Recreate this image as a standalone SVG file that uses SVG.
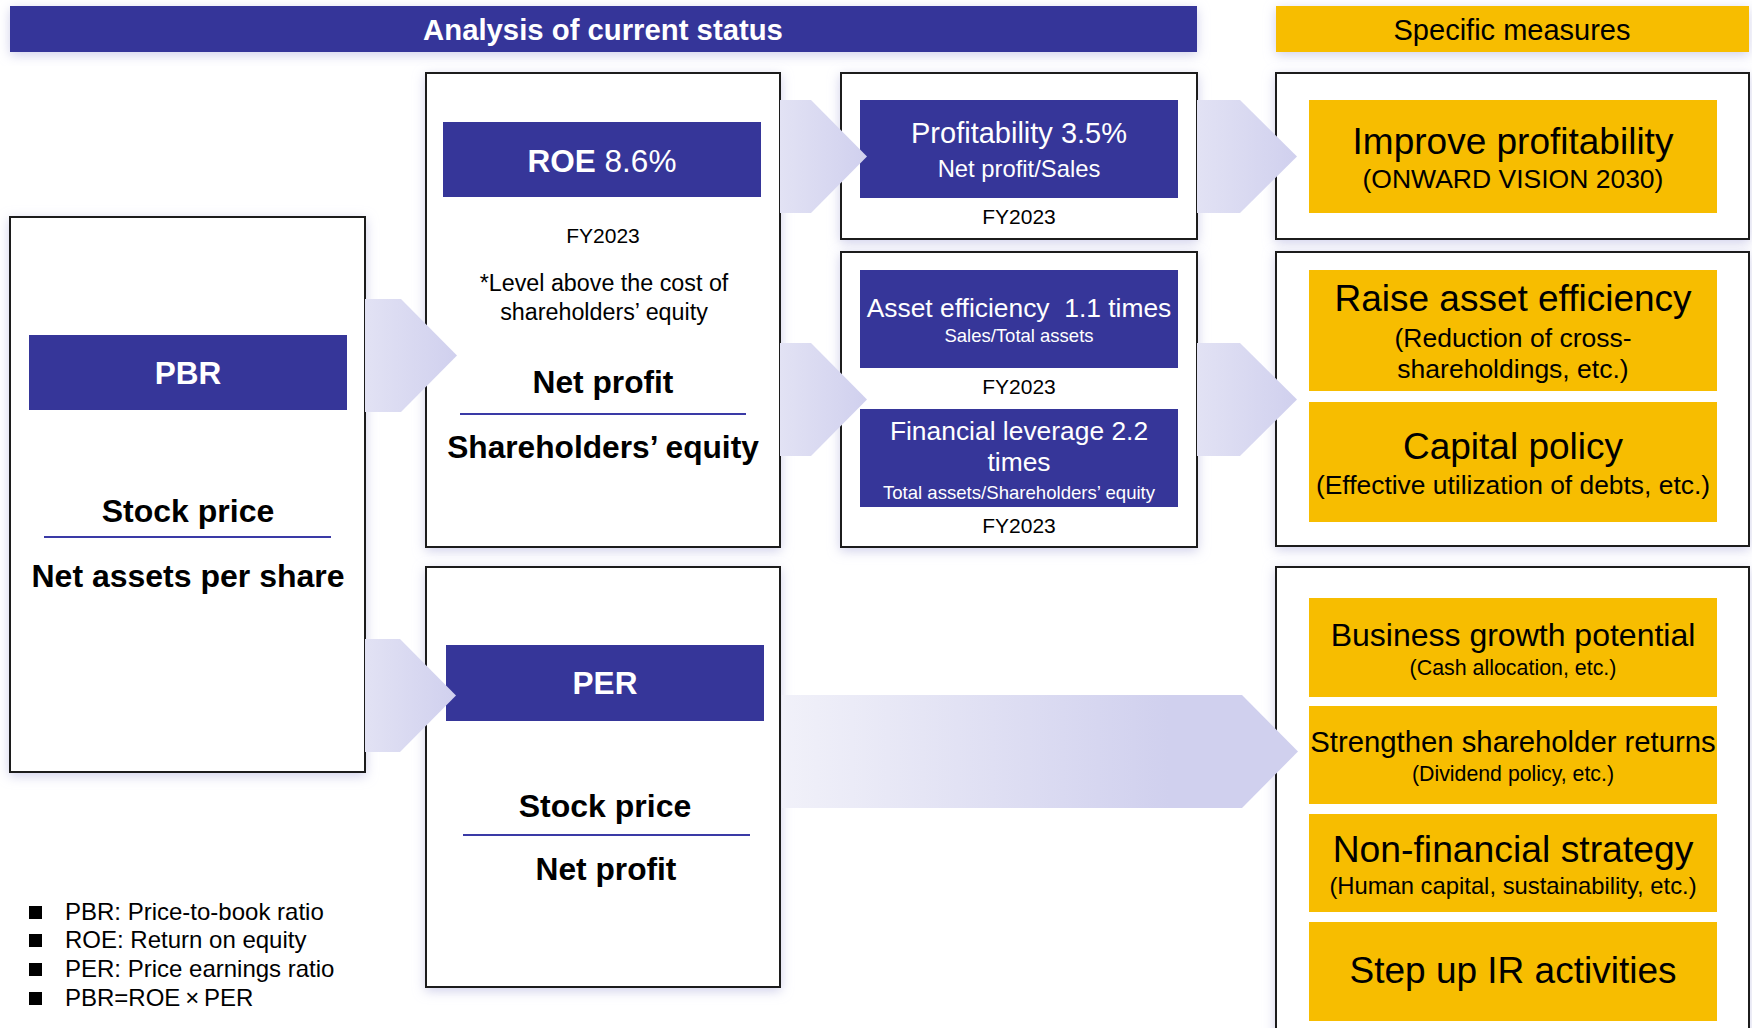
<svg xmlns="http://www.w3.org/2000/svg" width="1752" height="1028" viewBox="0 0 1752 1028">
<defs>
<style>
text{font-family:"Liberation Sans",Arial,"Noto Sans CJK JP",sans-serif;text-anchor:middle;fill:#000}
.box{fill:#fff;stroke:#1a1a1a;stroke-width:2;filter:url(#sh)}
.blue{fill:#363699}
.yel{fill:#F7BD00}
.w{fill:#fff}
.b{font-weight:bold}
.div{stroke:#3a3aa6;stroke-width:2}
.arr{fill:url(#ga)}
.lg{text-anchor:start}
</style>
<filter id="sh" x="-10%" y="-30%" width="120%" height="160%">
<feDropShadow dx="0" dy="3" stdDeviation="6" flood-color="#bcbce2" flood-opacity="0.7"/>
</filter>
<linearGradient id="ga" x1="0" y1="0" x2="1" y2="0">
<stop offset="0" stop-color="#e2e2f4"/>
<stop offset="1" stop-color="#d0d0ee"/>
</linearGradient>
<linearGradient id="gb" x1="0" y1="0" x2="1" y2="0">
<stop offset="0" stop-color="#f1f1f9"/>
<stop offset="0.75" stop-color="#d0d0ee"/>
<stop offset="1" stop-color="#d0d0ee"/>
</linearGradient>
</defs>
<rect width="1752" height="1028" fill="#fff"/>

<g id="header-analysis">
<rect x="10" y="6" width="1187" height="46" class="blue" filter="url(#sh)"/>
<text x="603" y="40" font-size="29.3" class="b w">Analysis of current status</text>
</g>
<g id="header-measures">
<rect x="1276" y="6" width="473" height="46" class="yel" filter="url(#sh)"/>
<text x="1512" y="40" font-size="29">Specific measures</text>
</g>

<g id="node-pbr">
<rect x="10" y="217" width="355" height="555" class="box"/>
<rect x="29" y="335" width="318" height="75" class="blue"/>
<text x="188" y="384" font-size="31.5" class="b w">PBR</text>
<text x="188" y="522" font-size="32" class="b">Stock price</text>
<line x1="44" y1="537" x2="331" y2="537" class="div"/>
<text x="188" y="587" font-size="32" class="b">Net assets per share</text>
</g>

<g id="node-roe">
<rect x="426" y="73" width="354" height="474" class="box"/>
<rect x="443" y="122" width="318" height="75" class="blue"/>
<text x="602" y="172" font-size="31.5" class="w"><tspan font-weight="bold">ROE</tspan> 8.6%</text>
<text x="603" y="243" font-size="21">FY2023</text>
<text x="604" y="291" font-size="23.3">*Level above the cost of</text>
<text x="604" y="320" font-size="23.3">shareholders’ equity</text>
<text x="603" y="393" font-size="31.7" class="b">Net profit</text>
<line x1="460" y1="414" x2="746" y2="414" class="div"/>
<text x="603" y="458" font-size="31.7" class="b">Shareholders’ equity</text>
</g>

<g id="node-per">
<rect x="426" y="567" width="354" height="420" class="box"/>
<rect x="446" y="645" width="318" height="76" class="blue"/>
<text x="605" y="694" font-size="31.5" class="b w">PER</text>
<text x="605" y="817" font-size="32" class="b">Stock price</text>
<line x1="463" y1="835" x2="750" y2="835" class="div"/>
<text x="606" y="880" font-size="31.7" class="b">Net profit</text>
</g>

<g id="node-profitability">
<rect x="841" y="73" width="356" height="166" class="box"/>
<rect x="860" y="100" width="318" height="98" class="blue"/>
<text x="1019" y="143" font-size="29" class="w">Profitability 3.5%</text>
<text x="1019" y="177" font-size="23.8" class="w">Net profit/Sales</text>
<text x="1019" y="224" font-size="21">FY2023</text>
</g>

<g id="node-asset-leverage">
<rect x="841" y="252" width="356" height="295" class="box"/>
<rect x="860" y="270" width="318" height="98" class="blue"/>
<text x="1019" y="317" font-size="26.4" class="w">Asset efficiency&#160; 1.1 times</text>
<text x="1019" y="342" font-size="18.5" class="w">Sales/Total assets</text>
<text x="1019" y="394" font-size="21">FY2023</text>
<rect x="860" y="409" width="318" height="98" class="blue"/>
<text x="1019" y="440" font-size="26.4" class="w">Financial leverage 2.2</text>
<text x="1019" y="471" font-size="26.4" class="w">times</text>
<text x="1019" y="499" font-size="18.6" class="w">Total assets/Shareholders’ equity</text>
<text x="1019" y="533" font-size="21">FY2023</text>
</g>

<g id="node-improve">
<rect x="1276" y="73" width="473" height="166" class="box"/>
<rect x="1309" y="100" width="408" height="113" class="yel"/>
<text x="1513" y="154" font-size="37">Improve profitability</text>
<text x="1513" y="188" font-size="26.5">(ONWARD VISION 2030)</text>
</g>

<g id="node-asset-capital">
<rect x="1276" y="252" width="473" height="294" class="box"/>
<rect x="1309" y="270" width="408" height="121" class="yel"/>
<text x="1513" y="311" font-size="37">Raise asset efficiency</text>
<text x="1513" y="347" font-size="26.5">(Reduction of cross-</text>
<text x="1513" y="378" font-size="26.5">shareholdings, etc.)</text>
<rect x="1309" y="402" width="408" height="120" class="yel"/>
<text x="1513" y="459" font-size="37">Capital policy</text>
<text x="1513" y="494" font-size="26.4">(Effective utilization of debts, etc.)</text>
</g>

<g id="node-other-measures">
<rect x="1276" y="567" width="473" height="480" class="box"/>
<rect x="1309" y="598" width="408" height="99" class="yel"/>
<text x="1513" y="646" font-size="32">Business growth potential</text>
<text x="1513" y="675" font-size="21.4">(Cash allocation, etc.)</text>
<rect x="1309" y="706" width="408" height="98" class="yel"/>
<text x="1513" y="752" font-size="29.3">Strengthen shareholder returns</text>
<text x="1513" y="781" font-size="21.3">(Dividend policy, etc.)</text>
<rect x="1309" y="814" width="408" height="98" class="yel"/>
<text x="1513" y="862" font-size="37.3">Non-financial strategy</text>
<text x="1513" y="894" font-size="23.8">(Human capital, sustainability, etc.)</text>
<rect x="1309" y="922" width="408" height="99" class="yel"/>
<text x="1513" y="983" font-size="37">Step up IR activities</text>
</g>

<g id="legend">
<rect x="29" y="906" width="13" height="13" fill="#000"/>
<rect x="29" y="934" width="13" height="13" fill="#000"/>
<rect x="29" y="963" width="13" height="13" fill="#000"/>
<rect x="29" y="992" width="13" height="13" fill="#000"/>
<text x="65" y="920" font-size="24" class="lg">PBR: Price-to-book ratio</text>
<text x="65" y="948" font-size="24" class="lg">ROE: Return on equity</text>
<text x="65" y="977" font-size="24" class="lg">PER: Price earnings ratio</text>
<text x="65" y="1006" font-size="24" class="lg">PBR=ROE&#8201;×&#8201;PER</text>
</g>

<g id="connectors">
<polygon class="arr" points="365,299 401,299 457,355.5 401,412 365,412"/>
<polygon class="arr" points="780,100 811,100 867,156.5 811,213 780,213"/>
<polygon class="arr" points="780,343 811,343 867,399.5 811,456 780,456"/>
<polygon class="arr" points="1197,100 1240,100 1297,156.5 1240,213 1197,213"/>
<polygon class="arr" points="1197,343 1240,343 1297,399.5 1240,456 1197,456"/>
<polygon class="arr" points="365,639 400,639 456,695.5 400,752 365,752"/>
<polygon fill="url(#gb)" points="782,695 1242,695 1298,751.5 1242,808 782,808"/>
</g>
</svg>
